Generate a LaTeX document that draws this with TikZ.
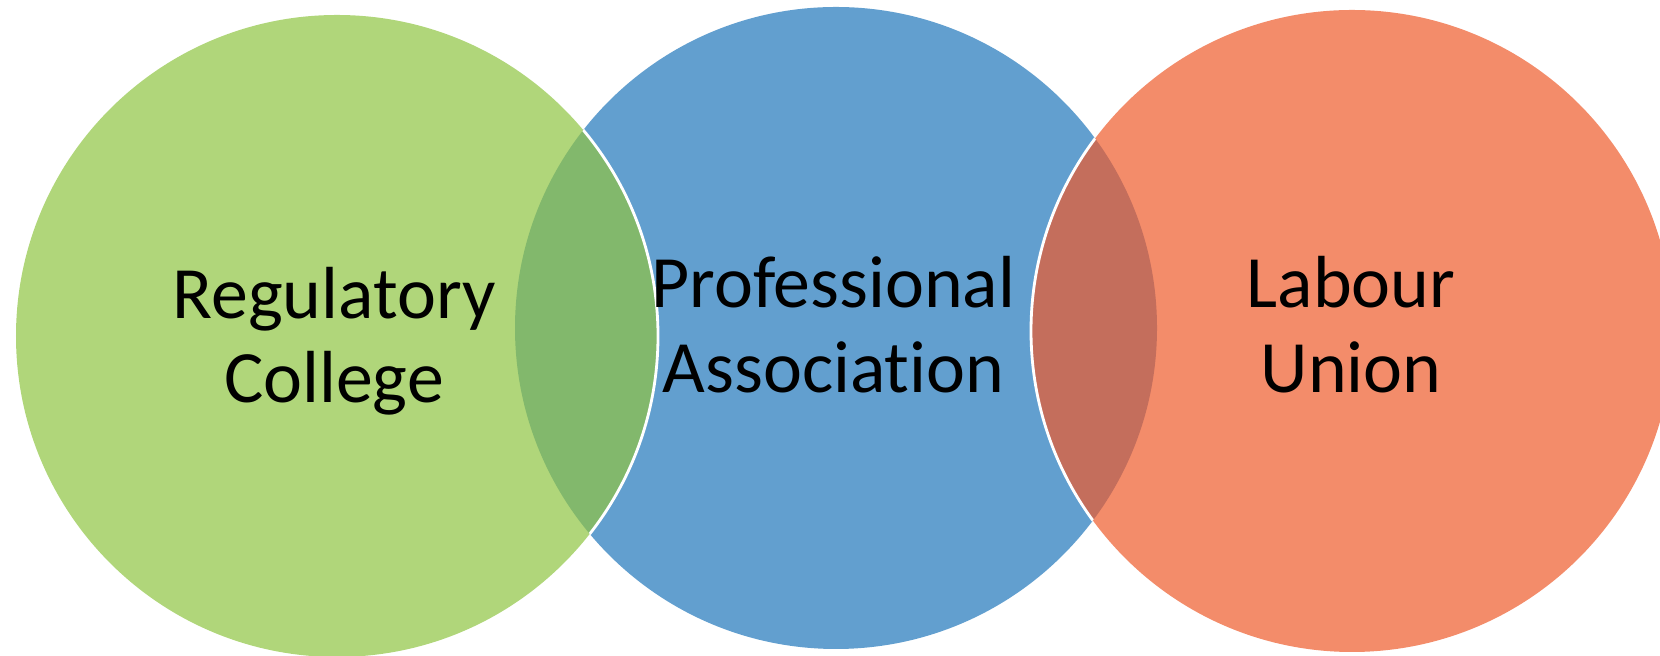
\documentclass[tikz,border=0pt]{standalone}
\usepackage{fontspec}
\setmainfont{Carlito}
\definecolor{collegegreen}{HTML}{B0D67A}
\definecolor{assocblue}{HTML}{629FCF}
\definecolor{unionorange}{HTML}{F38C6A}
\definecolor{greenblue}{HTML}{82B86C}
\definecolor{orangeblue}{HTML}{C46E5C}
\begin{document}
\begin{tikzpicture}[x=1cm,y=1cm,
  circletext/.style={align=center, font=\fontsize{21}{24}\selectfont, inner sep=0pt},
  rim/.style={white, line width=0.8pt}]
\useasboundingbox (0,0) rectangle (16.6,6.56);

%centres
\coordinate (G) at (3.37,3.20);
\coordinate (B) at (8.36,3.28);
\coordinate (O) at (13.52,3.25);

%circles
\fill[assocblue] (B) circle[radius=3.21];
\fill[collegegreen] (G) circle[radius=3.21];
\fill[unionorange] (O) circle[radius=3.21];

%overlaps
\begin{scope}
    \clip (B) circle[radius=3.21];
    \fill[greenblue] (G) circle[radius=3.21];
    \fill[orangeblue] (O) circle[radius=3.21];
    \draw[rim] (G) circle[radius=3.21];
    \draw[rim] (O) circle[radius=3.21];
\end{scope}

%labels
\node[circletext] (college) at (3.34,3.145) {Regulatory\\College};
\node[circletext] (association) at (8.335,3.315) {Professional\\Associat\kern0pt ion};
\node[circletext] (union) at (13.51,3.315) {Labour\\Union};
\end{tikzpicture}
\end{document}
